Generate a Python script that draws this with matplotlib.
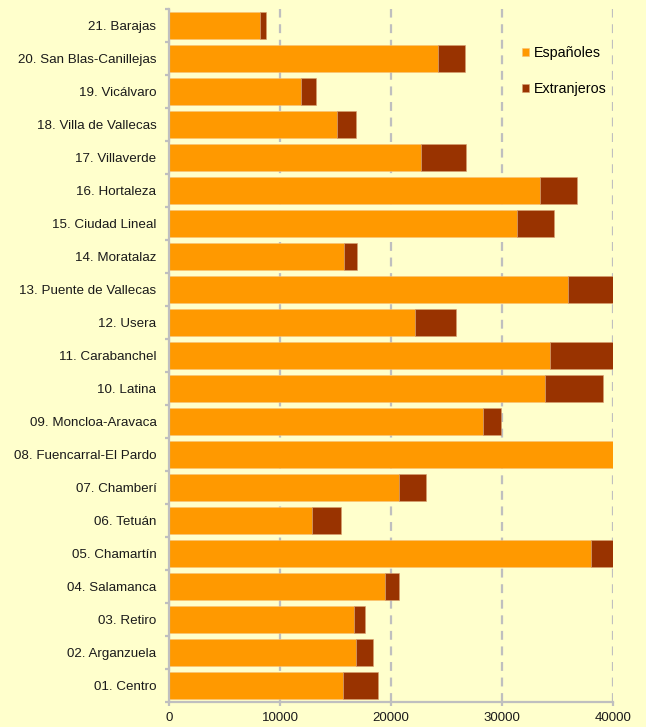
import numpy as np
import matplotlib.pyplot as plt

distritos = ['01. Centro', '02. Arganzuela', '03. Retiro', '04. Salamanca',
             '05. Chamartín', '06. Tetuán', '07. Chamberí', '08. Fuencarral-El Pardo',
             '09. Moncloa-Aravaca', '10. Latina', '11. Carabanchel', '12. Usera',
             '13. Puente de Vallecas', '14. Moratalaz', '15. Ciudad Lineal',
             '16. Hortaleza', '17. Villaverde', '18. Villa de Vallecas',
             '19. Vicálvaro', '20. San Blas-Canillejas', '21. Barajas']

espanoles = [15690, 16810, 16680, 19450, 37990, 12850, 20710, 43000, 28300, 33880,
             34270, 22120, 35920, 15780, 31300, 33370, 22690, 15130, 11880, 24220, 8190]
extranjeros = [3100, 1530, 990, 1260, 2070, 2660, 2400, 3500, 1570, 5190,
               5820, 3750, 4600, 1170, 3390, 3360, 4080, 1740, 1320, 2430, 540]

ticks_x = [0, 10000, 20000, 30000, 40000]

plt.rcParams['font.family'] = ['Liberation Sans', 'DejaVu Sans']

fondo = '#FFFFCC'
gris = '#BFBFBF'

fig = plt.figure(figsize=(6.46, 7.27), dpi=100, facecolor=fondo)
ax = fig.add_axes([0.2616, 0.0344, 0.6878, 0.9532], facecolor=fondo)

y = np.arange(len(distritos))
ax.barh(y, espanoles, height=0.79, color='#FF9900', label='Españoles',
        edgecolor='#F7C27A', linewidth=0.4)
ax.barh(y, extranjeros, left=espanoles, height=0.79, color='#993300',
        label='Extranjeros', edgecolor='#D9A070', linewidth=0.4)

ax.set_xlim(0, 40000)
ax.set_ylim(-0.5, len(distritos) - 0.5)
ax.set_xticks(ticks_x)
ax.set_xticklabels([str(t) for t in ticks_x])
ax.set_yticks(y)
ax.set_yticklabels(distritos)
ax.set_yticks(np.arange(-0.5, len(distritos), 1), minor=True)

# dashed vertical grid only
ax.set_axisbelow(True)
ax.xaxis.grid(True, color=gris, linestyle=(0, (4, 3)), linewidth=1.6)

for s in ['top', 'right']:
    ax.spines[s].set_visible(False)
for s in ['left', 'bottom']:
    ax.spines[s].set_color(gris)
    ax.spines[s].set_linewidth(1.6)

ax.tick_params(axis='y', which='major', length=0, pad=9, labelsize=9.6, labelcolor='#1a1a1a')
ax.tick_params(axis='y', which='minor', length=3, width=1.6, color=gris)
ax.tick_params(axis='x', which='major', length=3, width=1.6, color=gris, pad=4,
               labelsize=9.5, labelcolor='#1a1a1a')

ax.legend(loc='upper left', bbox_to_anchor=(0.7945, 0.946), frameon=False,
          fontsize=10.3, handlelength=0.5, handleheight=0.5, handletextpad=0.3,
          labelspacing=1.5, borderpad=0, borderaxespad=0)

fig.savefig('out.png', dpi=100, facecolor=fondo)
